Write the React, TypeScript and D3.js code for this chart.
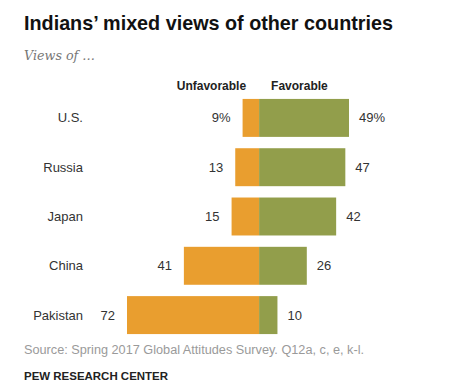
import React from 'react'
import * as d3 from 'd3'

// values
const countries = ['U.S.', 'Russia', 'Japan', 'China', 'Pakistan']
const unfavorable = [9, 13, 15, 41, 72]
const favorable = [49, 47, 42, 26, 10]

const W = 470
const H = 390

const ORANGE = '#E99E2F'
const GREEN = '#929E4B'
const FONT = '"Liberation Sans", Arial, sans-serif'

export default function App () {
  // x scale: unfavorable to the left of zero, favorable to the right
  const x = d3.scaleLinear()
    .domain([-d3.max(unfavorable)!, d3.max(favorable)!])
    .range([127, 349])

  const y = d3.scaleBand()
    .domain(countries)
    .range([94, 339])
    .paddingInner(0.23)
    .paddingOuter(0.1)

  const x0 = x(0)

  return (
    <svg width={W} height={H} style={{ position: 'absolute', left: 0, top: 0, background: '#fff' }}>
      <text x={24} y={30} fontFamily={FONT} fontWeight='bold' fontSize={19.8} fill='#111' textLength={369} lengthAdjust='spacingAndGlyphs'>
        Indians’ mixed views of other countries
      </text>
      <text x={24} y={60} fontFamily='"DejaVu Serif", "Liberation Serif", serif' fontStyle='italic' fontSize={13} fill='#777' textLength={71} lengthAdjust='spacingAndGlyphs'>
        Views of …
      </text>

      <text x={x0 - 13} y={90} textAnchor='end' fontFamily={FONT} fontWeight='bold' fontSize={12} fill='#222'>Unfavorable</text>
      <text x={x0 + 12} y={90} fontFamily={FONT} fontWeight='bold' fontSize={12} fill='#222'>Favorable</text>

      {countries.map((c, i) => {
        const top = y(c)!
        const bh = y.bandwidth()
        const cy = top + bh / 2
        const pct = i === 0 ? '%' : ''
        return (
          <g key={c}>
            <text x={83} y={cy} dy='0.35em' textAnchor='end' fontFamily={FONT} fontSize={13} fill='#333'>{c}</text>
            <rect x={x(-unfavorable[i])} y={top} width={x0 - x(-unfavorable[i])} height={bh} fill={ORANGE} />
            <rect x={x0} y={top} width={x(favorable[i]) - x0} height={bh} fill={GREEN} />
            <text x={x(-unfavorable[i]) - 12} y={cy} dy='0.35em' textAnchor='end' fontFamily={FONT} fontSize={13} fill='#333'>
              {unfavorable[i] + pct}
            </text>
            <text x={x(favorable[i]) + 10} y={cy} dy='0.35em' fontFamily={FONT} fontSize={13} fill='#333'>
              {favorable[i] + pct}
            </text>
          </g>
        )
      })}

      <text x={24} y={354} fontFamily={FONT} fontSize={12} fill='#9a9a9a' textLength={340} lengthAdjust='spacingAndGlyphs'>
        Source: Spring 2017 Global Attitudes Survey. Q12a, c, e, k-l.
      </text>
      <text x={24} y={380} fontFamily={FONT} fontWeight='bold' fontSize={11} fill='#222' textLength={144} lengthAdjust='spacingAndGlyphs'>
        PEW RESEARCH CENTER
      </text>
    </svg>
  )
}
